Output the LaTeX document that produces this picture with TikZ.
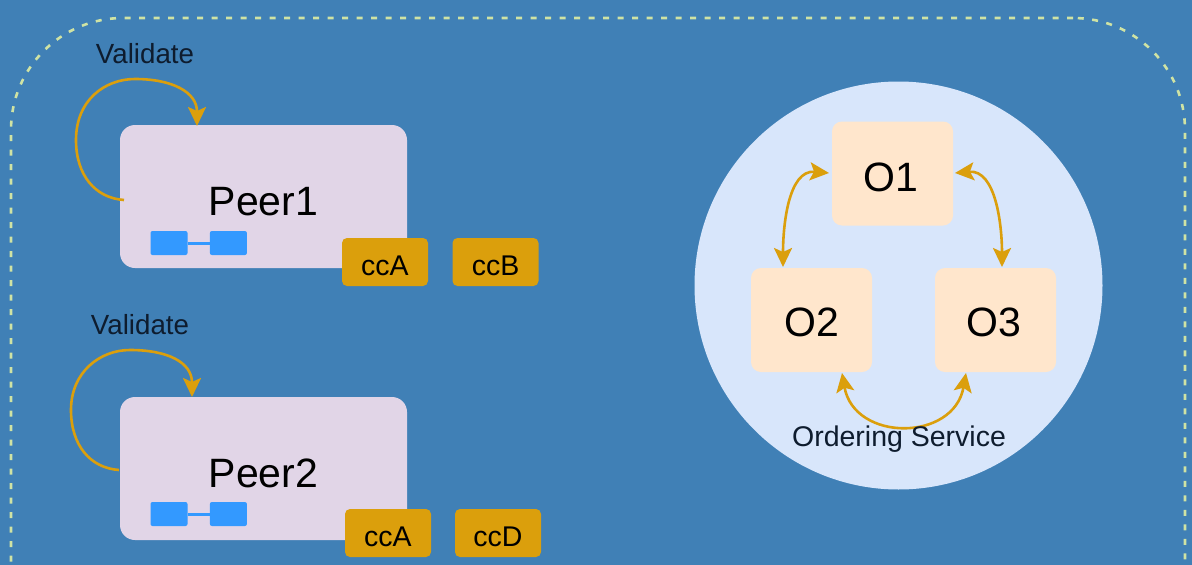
\documentclass[tikz,border=0pt]{standalone}
\usepackage{fontspec}
\setmainfont{Liberation Sans}
\usetikzlibrary{arrows.meta}
\usetikzlibrary{positioning}
\definecolor{bluebg}{HTML}{4080B6}
\definecolor{peerfill}{HTML}{E1D5E7}
\definecolor{ordfill}{HTML}{FFE6CC}
\definecolor{circfill}{HTML}{D8E6FB}
\definecolor{gold}{HTML}{DB9F0C}
\definecolor{blockfill}{HTML}{3399FF}
\definecolor{dashline}{HTML}{CFE3A4}
\definecolor{labelink}{HTML}{0E1C2E}
\tikzset{
  peerbox/.style={fill=peerfill,rounded corners=15pt,minimum width=287pt,minimum height=143pt,inner sep=0pt,text height=37pt,text depth=0pt,font=\fontsize{41}{41}\selectfont},
  ccbox/.style={fill=gold,rounded corners=5pt,minimum width=86pt,minimum height=48pt,inner sep=0pt,text height=26pt,text depth=0pt,font=\fontsize{28.5}{28.5}\selectfont},
  ordbox/.style={fill=ordfill,rounded corners=10pt,minimum width=121pt,minimum height=104pt,inner sep=0pt,text height=37pt,text depth=0pt,font=\fontsize{41}{41}\selectfont},
  blockbox/.style={fill=blockfill,rounded corners=2pt,minimum width=37pt,minimum height=24pt,inner sep=0pt},
  note/.style={inner sep=0pt,text=labelink,font=\fontsize{27.7}{27.7}\selectfont},
  flow/.style={draw=gold,line width=2.6pt,-{Stealth[length=19pt,width=18pt,inset=4pt]}},
  swap/.style={draw=gold,line width=2.6pt,{Stealth[length=19pt,width=18pt,inset=4pt]}-{Stealth[length=19pt,width=18pt,inset=4pt]}}
}
\begin{document}
\begin{tikzpicture}[x=1pt,y=-1pt]
     \useasboundingbox (0,0) rectangle (1192,565);
     \clip (0,0) rectangle (1192,565);
     \fill[bluebg] (0,0) rectangle (1192,565);
     % outer dashed frame runs past the bottom edge
     \node[draw=dashline,line width=2.6pt,dash pattern=on 6pt off 8.5pt,rounded corners=112pt,minimum width=1174pt,minimum height=682pt,inner sep=0pt] (network) at (598,359) {};
     % peers
     \node[peerbox] (peerA) at (263.5,196.5) {Peer1};
     \node[peerbox] (peerB) at (263.5,468.5) {Peer2};
     \node[blockbox] (blockA) at (169,243) {};
     \node[blockbox,right=22pt of blockA] (blockAA) {};
     \draw[blockfill,line width=3pt] (blockA) -- (blockAA);
     \node[blockbox] (blockB) at (169,514) {};
     \node[blockbox,right=22pt of blockB] (blockBB) {};
     \draw[blockfill,line width=3pt] (blockB) -- (blockBB);
     % chaincodes
     \node[ccbox] (ccAone) at (385,262) {ccA};
     \node[ccbox] (ccB) at (495.5,262) {ccB};
     \node[ccbox] (ccAtwo) at (388,533) {ccA};
     \node[ccbox] (ccD) at (498,533) {ccD};
     % validate loops
     \node[note] (validA) at (145,54) {Validate};
     \node[note] (validB) at (140,325) {Validate};
     \coordinate (loopAout) at (124,200);
     \coordinate (loopAin) at (197,126);
     \coordinate (loopBout) at (119,470);
     \coordinate (loopBin) at (192,397);
     \draw[flow] (loopAout) .. controls (95,198) and (76,175) .. (76,140) .. controls (76,100) and (105,79) .. (135,79) .. controls (172,79) and (197,92) .. (loopAin);
     \draw[flow] (loopBout) .. controls (90,468) and (71,445) .. (71,410) .. controls (71,372) and (100,350) .. (130,350) .. controls (167,350) and (192,362) .. (loopBin);
     % ordering service
     \node[circle,fill=circfill,minimum size=408pt,inner sep=0pt] (service) at (898.5,285.5) {};
     \node[ordbox,text height=36pt] (ordA) at (892.5,173.5) {\hspace{-4pt}O1};
     \node[ordbox,text height=33pt] (ordB) at (811.5,320) {O2};
     \node[ordbox,text height=33pt] (ordC) at (995.5,320) {\hspace{-3pt}O3};
     \coordinate (ordAl) at (829,173);
     \coordinate (ordAr) at (955,173);
     \coordinate (ordBt) at (783,267);
     \coordinate (ordCt) at (1002,267);
     \coordinate (ordBb) at (842,373);
     \coordinate (ordCb) at (966,373);
     \draw[swap] (ordAl) to[out=175,in=90] (ordBt);
     \draw[swap] (ordAr) to[out=5,in=90] (ordCt);
     \draw[swap] (ordBb) to[out=280,in=260,looseness=1.45] (ordCb);
     \node[note,font=\fontsize{28.5}{28.5}\selectfont] (orderlabel) at (899,439) {Ordering Service};
\end{tikzpicture}
\end{document}
